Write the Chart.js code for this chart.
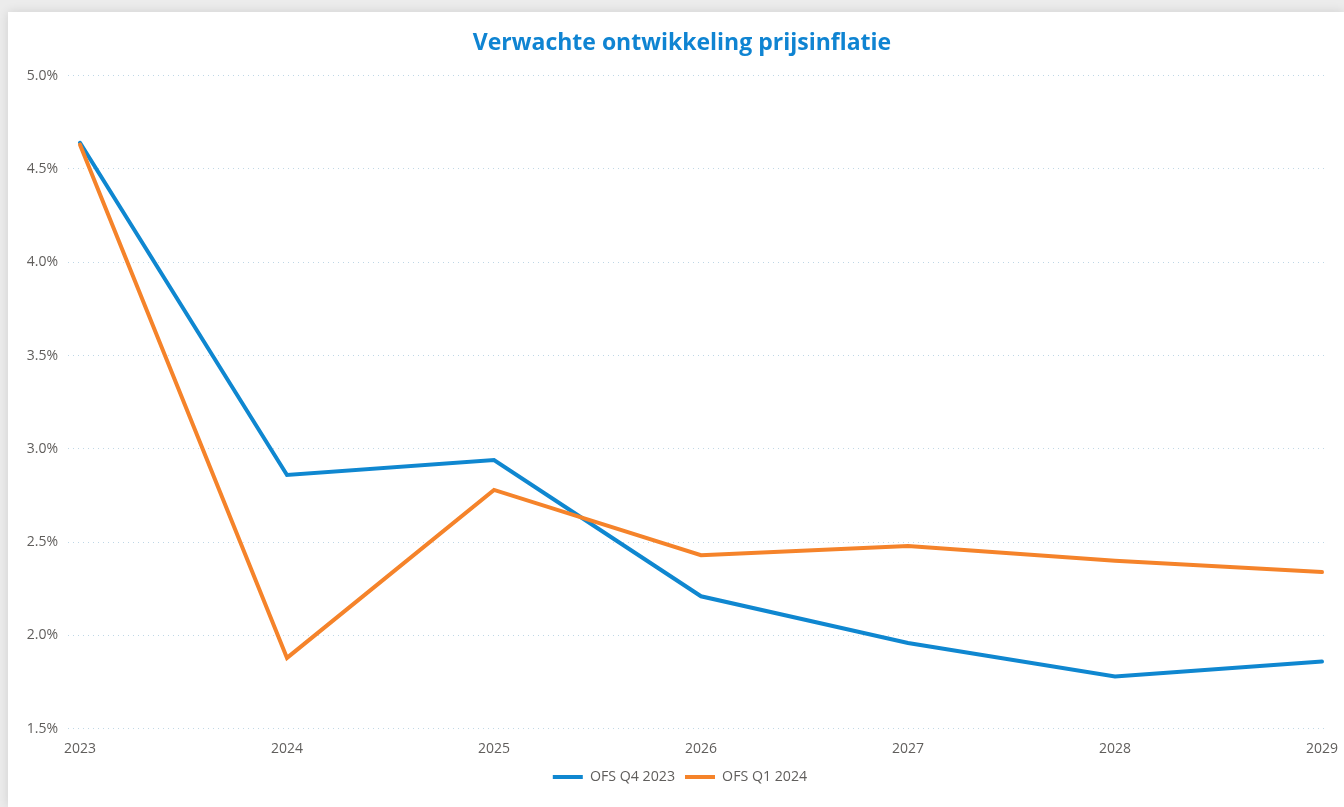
<!DOCTYPE html>
<html lang="nl">

<head>
  <meta charset="utf-8">
  <title>Verwachte ontwikkeling prijsinflatie</title>
  <style>
    html, body { margin: 0; padding: 0; background: #ececec; }
    .card {
      position: absolute; left: 8px; top: 12px; width: 1336px; height: 795px;
      background: #fff; box-shadow: 0 0 10px rgba(0, 0, 0, 0.12);
    }
    #chart_wrap { position: absolute; left: 0; top: 0; width: 1344px; height: 807px; }
  </style>
</head>

<body>
  <div class="card"></div>
  <div id="chart_wrap"><canvas id="inflatie"></canvas></div>

  <script src="https://cdn.jsdelivr.net/npm/chart.js"></script>
  <script>
    const years = [2023, 2024, 2025, 2026, 2027, 2028, 2029];
    const ofs_q4_2023 = [4.64, 2.86, 2.94, 2.21, 1.96, 1.78, 1.86];
    const ofs_q1_2024 = [4.63, 1.88, 2.78, 2.43, 2.48, 2.40, 2.34];
    const y_ticks = [1.5, 2.0, 2.5, 3.0, 3.5, 4.0, 4.5, 5.0];

    const blue = "#0f87d0";
    const orange = "#f5832a";
    const grey = "#605e5c";
    const font = "'Open Sans', 'Noto Sans', sans-serif";

    const pts = (vals) => years.map((y, i) => ({ x: y, y: vals[i] }));

    // title and legend sit a bit right of the canvas centre in the original
    const nudge = {
      id: "nudge",
      afterLayout(chart) {
        chart.titleBlock.left += 14;
        chart.titleBlock.right += 14;
        chart.legend.left += 12;
        chart.legend.right += 12;
      }
    };

    new Chart(inflatie, {
      type: "line",
      data: {
        datasets: [{
          label: "OFS Q4 2023",
          data: pts(ofs_q4_2023),
          borderColor: blue,
          backgroundColor: blue,
          borderWidth: 4,
          borderCapStyle: "round",
          order: 1
        },
        {
          label: "OFS Q1 2024",
          data: pts(ofs_q1_2024),
          borderColor: orange,
          backgroundColor: orange,
          borderWidth: 4,
          borderCapStyle: "round",
          order: 0
        }]
      },
      plugins: [nudge],
      options: {
        responsive: true,
        maintainAspectRatio: false,
        animation: false,
        layout: { padding: { top: 30, left: 8, right: 16, bottom: 13 } },
        elements: { point: { radius: 0 } },
        plugins: {
          tooltip: { enabled: false },
          title: {
            display: true,
            text: "Verwachte ontwikkeling prijsinflatie",
            color: "#0f84d2",
            font: { family: font, size: 23, weight: "bold" },
            padding: { top: 0, bottom: 18 }
          },
          legend: {
            position: "bottom",
            labels: {
              usePointStyle: true,
              pointStyle: "line",
              pointStyleWidth: 30,
              boxHeight: 3,
              color: grey,
              padding: 10,
              font: { family: font, size: 14.2 },
              sort: (a, b) => a.datasetIndex - b.datasetIndex
            }
          }
        },
        scales: {
          x: {
            type: "linear",
            min: 2022.942,
            max: 2029.029,
            afterBuildTicks: (s) => { s.ticks = years.map((v) => ({ value: v })); },
            afterFit: (s) => { s.height = 31; },
            grid: { display: false },
            border: { display: false },
            ticks: {
              color: grey,
              padding: 4,
              maxRotation: 0,
              font: { family: font, size: 14 },
              callback: (v) => String(v)
            }
          },
          y: {
            min: 1.5,
            max: 5.0,
            afterBuildTicks: (s) => { s.ticks = y_ticks.map((v) => ({ value: v })); },
            afterFit: (s) => { s.width = 60; },
            grid: { color: "#bfd7e6", lineWidth: 1, drawTicks: false },
            border: { display: false, dash: [1, 4] },
            ticks: {
              color: grey,
              padding: 10,
              font: { family: font, size: 14 },
              callback: (v) => v.toFixed(1) + "%"
            }
          }
        }
      }
    });
  </script>
</body>

</html>
